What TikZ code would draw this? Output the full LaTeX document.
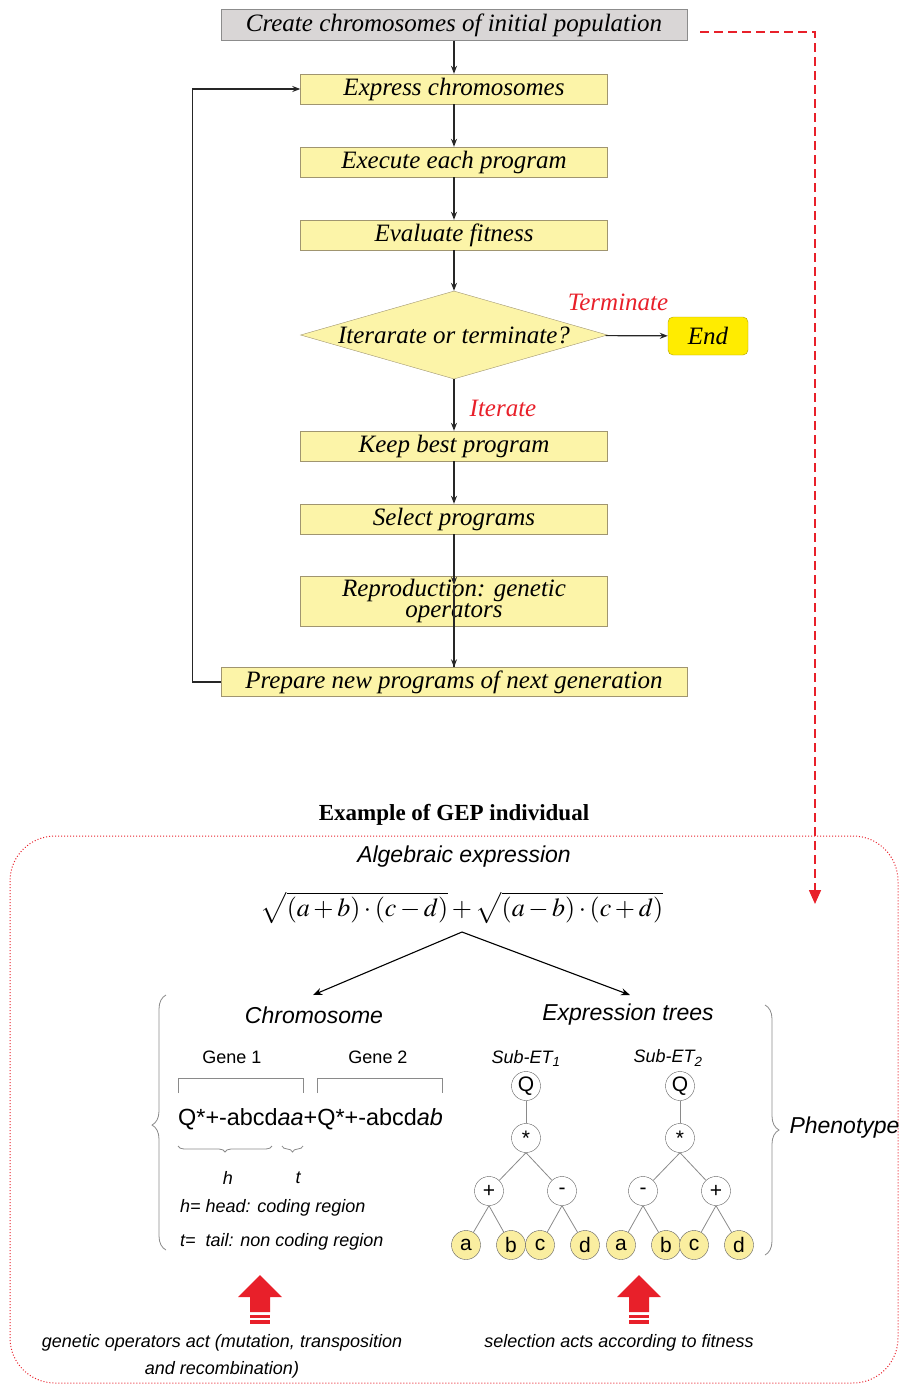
\documentclass[tikz,border=0pt]{standalone}
\usepackage{mathptmx}
\usepackage{fontspec}
\setmainfont{Liberation Serif}
\newfontfamily\arial{Liberation Sans}
\usetikzlibrary{shapes.geometric,arrows.meta,decorations.pathreplacing}
\definecolor{boxgray}{HTML}{D9D6D6}
\definecolor{grayedge}{HTML}{8C8C8C}
\definecolor{boxyellow}{HTML}{FCF4A8}
\definecolor{yedge}{HTML}{A09570}
\definecolor{endyellow}{HTML}{FFEC00}
\definecolor{endedge}{HTML}{B0A000}
\definecolor{redc}{HTML}{E8202A}
\definecolor{leafyellow}{HTML}{FAEEA0}
\definecolor{treeedge}{HTML}{606060}
\definecolor{linegray}{HTML}{8A8A8A}
\newcommand\fsz[2]{\fontsize{#1pt}{#2pt}\selectfont}
\begin{document}
\begin{tikzpicture}[x=1pt,y=-1pt,
  flowbox/.style={draw=yedge, fill=boxyellow, minimum width=307pt, minimum height=30pt, inner sep=0pt, font=\fsz{25}{21}\itshape, align=center},
  widebox/.style={flowbox, minimum width=466pt},
  arr/.style={-{Stealth[length=8pt,width=6pt]}, line width=1.2pt, black!85},
  redlabel/.style={text=redc, font=\fsz{25}{25}\itshape},
  tnode/.style={circle, draw=treeedge, fill=white, minimum size=29pt, inner sep=0pt, font=\arial\fsz{21}{21}},
  leaf/.style={tnode, fill=leafyellow},
  tline/.style={draw=linegray, line width=0.8pt},
  gbrace/.style={draw=linegray, line width=0.8pt, decorate},
  redup/.pic={
    \fill[redc] (-22,22) -- (0,0) -- (22,22) -- (10,22) -- (10,37) -- (-10,37) -- (-10,22) -- cycle;
    \fill[redc] (-10,40) rectangle (10,43);
    \fill[redc] (-10,45) rectangle (10,49);
  }
]
\useasboundingbox (0,0) rectangle (900,1385);

% ---- flowchart ----
\node[widebox, fill=boxgray, draw=grayedge, minimum height=31pt] (create) at (454,25) {Create chromosomes of initial population};
\node[flowbox] (express) at (454,89) {Express chromosomes};
\node[flowbox] (execute) at (454,162) {Execute each program};
\node[flowbox] (evaluate) at (454,235) {Evaluate fitness};
\node[diamond, draw=yedge, fill=boxyellow, aspect=3.49, minimum width=307pt, minimum height=88pt, inner sep=-6pt, font=\fsz{25}{25}\itshape] (decide) at (454,335) {Iterarate or terminate?};
\node[draw=endedge, fill=endyellow, rounded corners=5pt, minimum width=80pt, minimum height=38pt, font=\fsz{25}{25}\itshape] (endn) at (708,336) {End};
\node[redlabel] (term) at (618,302) {Terminate};
\node[redlabel] (iter) at (503,408) {Iterate};
\node[flowbox] (keep) at (454,446) {Keep best program};
\node[flowbox] (select) at (454,519) {Select programs};
\node[flowbox, minimum height=50pt] (repro) at (454,601) {Reproduction: genetic\\operators};
\node[widebox, minimum height=29pt] (prepare) at (454,682) {Prepare new programs of next generation};

\coordinate (reproin) at (454,585);
\draw[arr] (create) -- (express);
\draw[arr] (express) -- (execute);
\draw[arr] (execute) -- (evaluate);
\draw[arr] (evaluate) -- (decide);
\draw[arr] (decide) -- (endn);
\draw[arr] (decide) -- (keep);
\draw[arr] (keep) -- (select);
\draw[line width=1.2pt, black!85] (reproin) -- (prepare.north);
\draw[arr] (select) -- (reproin);
\draw[arr] (reproin) -- (prepare.north);
\draw[arr] (prepare.west) -- ++(-28,0) |- (express.west);

% ---- red dashed link ----
\coordinate (dstart) at (700,32);
\coordinate (dcorner) at (815,32);
\coordinate (dend) at (815,904);
\draw[redc, line width=1.6pt, dash pattern=on 9pt off 5pt, -{Triangle[length=14pt,width=12pt]}] (dstart) -- (dcorner) -- (dend);

% ---- example ----
\node[font=\fsz{23}{23}\bfseries] (extitle) at (454,815) {Example of GEP individual};
\draw[redc, line width=1pt, dotted, rounded corners=45pt] (10,836) rectangle (898,1383);

\node[font=\arial\fsz{23}{23}\itshape] (alg) at (464,857) {Algebraic expression};
\node[font=\fsz{26}{26}] (formula) at (462,908) {$\sqrt{(a+b)\cdot(c-d)}+\sqrt{(a-b)\cdot(c+d)}$};
\coordinate (fsplit) at (462,932);
\coordinate (chromtip) at (313,995);
\coordinate (treetip) at (630,995);
\draw[-{Stealth[length=9pt,width=7pt]}, line width=1.1pt] (fsplit) -- (chromtip);
\draw[-{Stealth[length=9pt,width=7pt]}, line width=1.1pt] (fsplit) -- (treetip);

\node[font=\arial\fsz{23}{23}\itshape] (chrom) at (314,1015) {Chromosome};
\node[font=\arial\fsz{23}{23}\itshape] (etrees) at (628,1015) {Expression trees};

% braces
\draw[gbrace, decoration={brace, amplitude=14pt, aspect=0.49}] (166,1250) -- (166,995);
\draw[gbrace, decoration={brace, amplitude=14pt, aspect=0.5}] (765,1005) -- (765,1255);
\node[font=\arial\fsz{23}{23}\itshape, anchor=west] (pheno) at (786,1128) {Phenotype};

% chromosome
\node[font=\arial\fsz{18}{18}] (g1) at (232,1057) {Gene 1};
\node[font=\arial\fsz{18}{18}] (g2) at (378,1057) {Gene 2};
\draw[draw=linegray, line width=1pt] (178,1093) -- (178,1078) -- (303,1078) -- (303,1093);
\draw[draw=linegray, line width=1pt] (317,1093) -- (317,1078) -- (442,1078) -- (442,1093);
\node[font=\arial\fsz{23.4}{23}, anchor=west, inner sep=0pt] (cstr) at (178,1119) {Q*+-abcd\textit{aa}+Q*+-abcd\textit{ab}};
\draw[gbrace, decoration={brace, amplitude=6pt}] (272,1146) -- (178,1146);
\draw[gbrace, decoration={brace, amplitude=6pt}] (303,1146) -- (282,1146);
\node[font=\arial\fsz{18}{18}\itshape] (hl) at (228,1178) {h};
\node[font=\arial\fsz{18}{18}\itshape] (tl) at (298,1178) {t};
\node[font=\arial\fsz{18}{18}\itshape, anchor=west, inner sep=0pt] (hdef) at (180,1208) {h= head: coding region};
\node[font=\arial\fsz{18}{18}\itshape, anchor=west, inner sep=0pt] (tdef) at (180,1242) {t=\ \ tail: non coding region};

% trees
\node[font=\arial\fsz{18}{18}\itshape] (sub1) at (526,1058) {Sub-ET\textsubscript{1}};
\node[font=\arial\fsz{18}{18}\itshape] (sub2) at (668,1058) {Sub-ET\textsubscript{2}};

\node[tnode] (q1) at (526,1086) {Q};
\node[tnode] (m1) at (526,1138) {*};
\node[tnode] (p1) at (489,1191) {+};
\node[tnode] (s1) at (562,1191) {-};
\node[leaf] (a1) at (466,1245) {a};
\node[leaf] (b1) at (511,1245) {b};
\node[leaf] (c1) at (540,1245) {c};
\node[leaf] (d1) at (585,1245) {d};

\node[tnode] (q2) at (680,1086) {Q};
\node[tnode] (m2) at (680,1138) {*};
\node[tnode] (s2) at (643,1191) {-};
\node[tnode] (p2) at (716,1191) {+};
\node[leaf] (a2) at (621,1245) {a};
\node[leaf] (b2) at (666,1245) {b};
\node[leaf] (c2) at (694,1245) {c};
\node[leaf] (d2) at (739,1245) {d};

\draw[tline] (q1) -- (m1);
\draw[tline] (m1.south) -- (p1);
\draw[tline] (m1.south) -- (s1);
\draw[tline] (p1.south) -- (a1);
\draw[tline] (p1.south) -- (b1);
\draw[tline] (s1.south) -- (c1);
\draw[tline] (s1.south) -- (d1);
\draw[tline] (q2) -- (m2);
\draw[tline] (m2.south) -- (s2);
\draw[tline] (m2.south) -- (p2);
\draw[tline] (s2.south) -- (a2);
\draw[tline] (s2.south) -- (b2);
\draw[tline] (p2.south) -- (c2);
\draw[tline] (p2.south) -- (d2);

% red arrows and captions
\pic at (260,1275) {redup};
\pic at (639,1275) {redup};
\node[font=\arial\fsz{18}{27}\itshape, align=center] (gencap) at (222,1356) {genetic operators act (mutation, transposition\\and recombination)};
\node[font=\arial\fsz{18}{18}\itshape] (selcap) at (619,1343) {selection acts according to fitness};
\end{tikzpicture}
\end{document}
